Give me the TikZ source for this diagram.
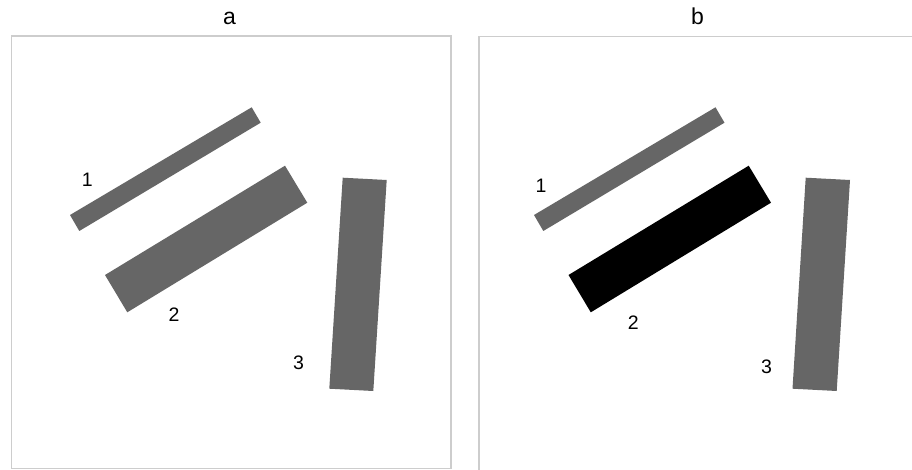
\documentclass[tikz,border=0pt]{standalone}
\usepackage{fontspec}
\setmainfont{Liberation Sans}
\definecolor{framegray}{RGB}{205,205,205}
\definecolor{bargray}{RGB}{102,102,102}
\begin{document}
\begin{tikzpicture}[x=1pt,y=-1pt,
  frameline/.style={draw=framegray,line width=1.2pt},
  graybar/.style={fill=bargray,draw=none},
  blackbar/.style={fill=black,draw=none},
  title/.style={font=\fontsize{23}{23}\selectfont,inner sep=0pt},
  num/.style={font=\fontsize{19.5}{19.5}\selectfont,inner sep=0pt}]
\useasboundingbox (0,0) rectangle (912,470);
\fill[white] (0,0) rectangle (912,470);
% frames
\draw[frameline] (11.5,36) rectangle (451,468.5);
\draw[frameline] (912,36.5) -- (479,36.5) -- (479,470);
% titles
\node[title,anchor=base] (ta) at (229.5,24.5) {a};
\node[title,anchor=base] (tb) at (697.5,24.5) {b};
% panel a bars
\fill[graybar] (70,215) -- (251.7,107.3) -- (260.7,122.7) -- (79.3,231) -- cycle;
\fill[graybar] (105,275) -- (285,165.7) -- (307.3,202.7) -- (127.3,312.3) -- cycle;
\fill[graybar] (342.7,177.7) -- (386.7,180) -- (373.3,391) -- (329.3,388.7) -- cycle;
% panel a labels
\node[num] (a1) at (87.3,180) {1};
\node[num] (a2) at (174,315) {2};
\node[num] (a3) at (298.5,362.3) {3};
% panel b bars
\fill[graybar] (534,215) -- (715.5,107.3) -- (724.5,122.7) -- (543.3,231) -- cycle;
\fill[blackbar] (568.5,275) -- (748.7,165.7) -- (771,202.7) -- (590.8,312.3) -- cycle;
\fill[graybar] (805.7,177.7) -- (850,180) -- (836.7,391) -- (792.5,388.7) -- cycle;
% panel b labels
\node[num] (b1) at (541,186) {1};
\node[num] (b2) at (633.3,322.7) {2};
\node[num] (b3) at (766.5,366.5) {3};
\end{tikzpicture}
\end{document}
